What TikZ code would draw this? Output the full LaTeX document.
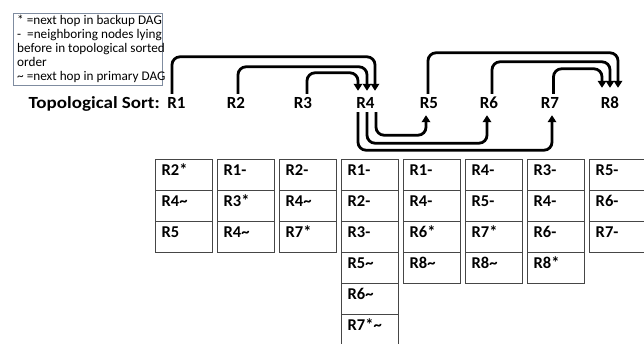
\documentclass[tikz,border=0pt]{standalone}
\usepackage{fontspec}
\usepackage{graphicx}
\setmainfont{Carlito}
\usetikzlibrary{arrows.meta}
\definecolor{legendline}{RGB}{127,140,160}
\definecolor{cellline}{RGB}{70,70,70}
\newcommand\tld{\textasciitilde}
\tikzset{
  lab/.style={font=\fontsize{17}{17}\selectfont\bfseries, inner xsep=1pt, inner ysep=3.5pt, text height=11pt, text depth=0pt},
  arr/.style={line width=2.8pt, rounded corners=8pt, -{Triangle[length=7pt,width=8.5pt]}},
  cell/.style={draw=cellline, line width=0.9pt, anchor=north west, minimum width=57pt, minimum height=31pt, inner sep=0pt},
  celltext/.style={font=\fontsize{16.5}{16.5}\selectfont\bfseries, anchor=base west, inner sep=0pt},
  legendbox/.style={draw=legendline, line width=0.8pt},
  legendtext/.style={anchor=north west, align=left, inner sep=0pt, font=\fontsize{13.2}{14.2}\selectfont}
}
\newcommand\tbl[2]{%
  \foreach \t [count=\r from 0] in {#2} {
    \node[cell] (T#1r\r) at ({155+62*#1},{159+31*\r}) {};
    \node[celltext] at ([xshift=6.5pt,yshift=-16pt]T#1r\r.north west) {\t};
  }%
}
\begin{document}
\begin{tikzpicture}[x=1pt,y=-1pt]
\useasboundingbox (0,0) rectangle (644,343);
% legend
\draw[legendbox] (13,13) rectangle (162,85);
\node[legendtext] (legend) at (17,14.5) {* =next hop in backup DAG\\-\ \ =neighboring nodes lying\\before in topological sorted\\order\\\tld{} =next hop in primary DAG};
% labels
\node[lab, anchor=east] (ts) at (161,103) {\scalebox{1.12}[1]{Topological Sort:}};
\node[lab] (R1) at (176.5,103) {R1};
\node[lab] (R2) at (236,103) {R2};
\node[lab] (R3) at (303,103) {R3};
\node[lab] (R4) at (365.5,103) {R4};
\node[lab] (R5) at (429,103) {R5};
\node[lab] (R6) at (489,103) {R6};
\node[lab] (R7) at (550,103) {R7};
\node[lab] (R8) at (610,103) {R8};
% top arcs
\draw[arr] ([xshift=-4.5pt]R1.north) -- ++(0,-37) -| ([xshift=9.5pt,yshift=3pt]R4.north);
\draw[arr] ([xshift=2pt]R2.north) -- ++(0,-27) -| ([xshift=1.5pt,yshift=3pt]R4.north);
\draw[arr] ([xshift=4pt]R3.north) -- ++(0,-21) -| ([xshift=-7.5pt,yshift=3pt]R4.north);
\draw[arr] ([xshift=-1pt]R5.north) -- ++(0,-41) -| ([xshift=8pt,yshift=6pt]R8.north);
\draw[arr] ([xshift=3pt]R6.north) -- ++(0,-32) -| ([xshift=0pt,yshift=6pt]R8.north);
\draw[arr] ([xshift=3.5pt]R7.north) -- ++(0,-25) -| ([xshift=-8pt,yshift=6pt]R8.north);
% bottom arcs
\draw[arr] ([xshift=10.5pt]R4.south) -- ++(0,23) -| ([xshift=-3pt,yshift=-3pt]R5.south);
\draw[arr] ([xshift=1.5pt]R4.south) -- ++(0,31) -| ([xshift=-2pt,yshift=-3pt]R6.south);
\draw[arr] ([xshift=-7.5pt]R4.south) -- ++(0,38) -| ([xshift=2pt,yshift=-3pt]R7.south);
% tables
\tbl{0}{R2*,R4\tld,R5}
\tbl{1}{R1-,R3*,R4\tld}
\tbl{2}{R2-,R4\tld,R7*}
\tbl{3}{R1-,R2-,R3-,R5\tld,R6\tld,R7*\tld}
\tbl{4}{R1-,R4-,R6*,R8\tld}
\tbl{5}{R4-,R5-,R7*,R8\tld}
\tbl{6}{R3-,R4-,R6-,R8*}
\tbl{7}{R5-,R6-,R7-}
\end{tikzpicture}
\end{document}
